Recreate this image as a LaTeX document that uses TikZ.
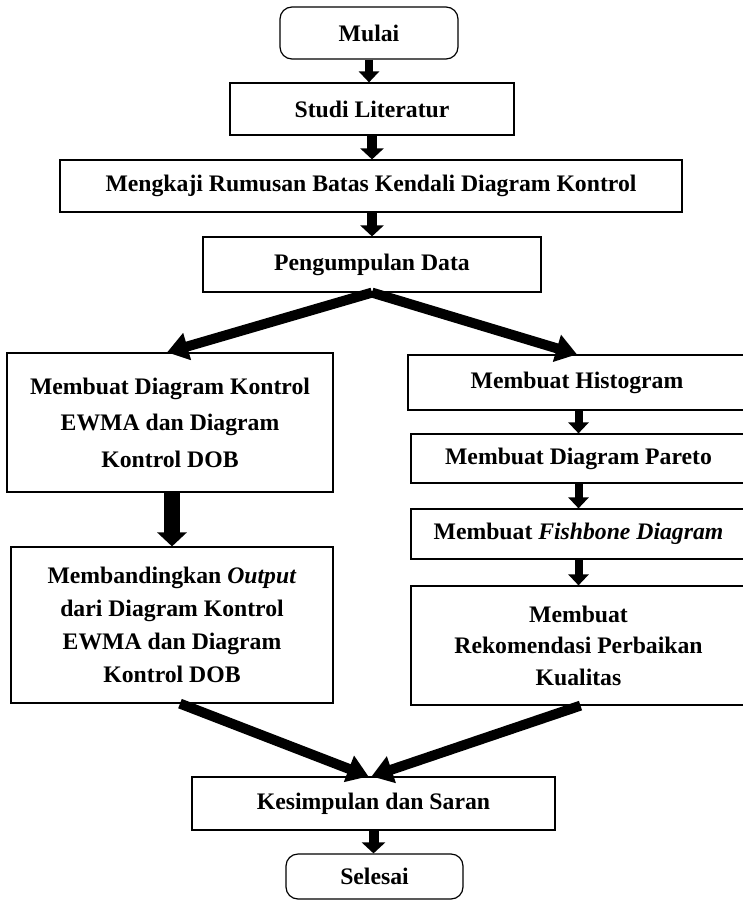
\documentclass[tikz,border=0pt]{standalone}
\usepackage{fontspec}
\setmainfont{Liberation Serif}
\usetikzlibrary{arrows.meta,calc}
\begin{document}
\begin{tikzpicture}[x=1pt,y=-1pt,
  box/.style={draw=black, line width=1.2pt, inner sep=0pt, align=center,
    font=\fontsize{23.7}{33}\selectfont\bfseries},
  rbox/.style={box, rounded corners=12pt},
  arrS/.style={line width=8pt, -{Triangle[width=20pt,length=11pt]}},
  arrM/.style={line width=10pt, -{Triangle[width=23pt,length=11pt]}},
  arrB/.style={line width=16pt, -{Triangle[width=29pt,length=14pt]}},
  arrD/.style={line width=10pt, -{Triangle[width=27pt,length=21pt]}}
]
\useasboundingbox (0,0) rectangle (743,901);

\node[rbox, minimum width=178pt, minimum height=52pt] (mulai) at (369,33) {Mulai};
\node[box, minimum width=284pt, minimum height=52pt] (studi) at (372,109) {Studi Literatur};
\node[box, minimum width=622pt, minimum height=52pt] (mengkaji) at (371,186) {Mengkaji Rumusan Batas Kendali Diagram Kontrol};
\node[box, minimum width=338pt, minimum height=55pt] (peng) at (372,264.5) {Pengumpulan Data};

\node[box, minimum width=326pt, minimum height=139pt,
  font=\fontsize{23.7}{36.5}\selectfont\bfseries] (leftA) at (170,422.5)
  {Membuat Diagram Kontrol\\EWMA dan Diagram\\Kontrol DOB};
\node[box, minimum width=322pt, minimum height=156pt] (leftB) at (172,625)
  {Membandingkan \textit{Output}\\dari Diagram Kontrol\\EWMA dan Diagram\\Kontrol DOB};

\node[box, minimum width=338pt, minimum height=55pt] (hist) at (577,382.5) {Membuat Histogram};
\node[box, minimum width=335pt, minimum height=49pt] (pareto) at (578.5,458.5) {Membuat Diagram Pareto};
\node[box, minimum width=335pt, minimum height=50pt] (fish) at (578.5,534) {Membuat \textit{Fishbone Diagram}};
\node[box, minimum width=335pt, minimum height=119pt,
  font=\fontsize{23.7}{31.5}\selectfont\bfseries] (rekom) at (578.5,645.5)
  {Membuat\\Rekomendasi Perbaikan\\Kualitas};

\node[box, minimum width=363pt, minimum height=53pt] (kes) at (373.5,803.5) {Kesimpulan dan Saran};
\node[rbox, minimum width=177pt, minimum height=45pt] (selesai) at (374.5,876.5) {Selesai};

\draw[arrS] (mulai.south) -- (mulai.south |- studi.north);
\draw[arrM] (studi.south) -- (studi.south |- mengkaji.north);
\draw[arrM] (peng.north |- mengkaji.south) -- (peng.north);
\draw[arrD] (peng.south) -- ([xshift=-3pt]leftA.north);
\draw[arrD] (peng.south) -- (hist.north);
\draw[arrB] ([xshift=2pt]leftA.south) -- ([xshift=2pt]leftA.south |- leftB.north);
\draw[arrS] (pareto.north |- hist.south) -- (pareto.north);
\draw[arrS] (pareto.south) -- (fish.north);
\draw[arrS] (fish.south) -- (rekom.north);
\draw[arrD] ([xshift=8pt]leftB.south) -- ([xshift=-5pt]kes.north);
\draw[arrD] ([xshift=2pt]rekom.south) -- ([xshift=-2pt]kes.north);
\draw[arrM] (kes.south) -- (kes.south |- selesai.north);
\end{tikzpicture}
\end{document}
